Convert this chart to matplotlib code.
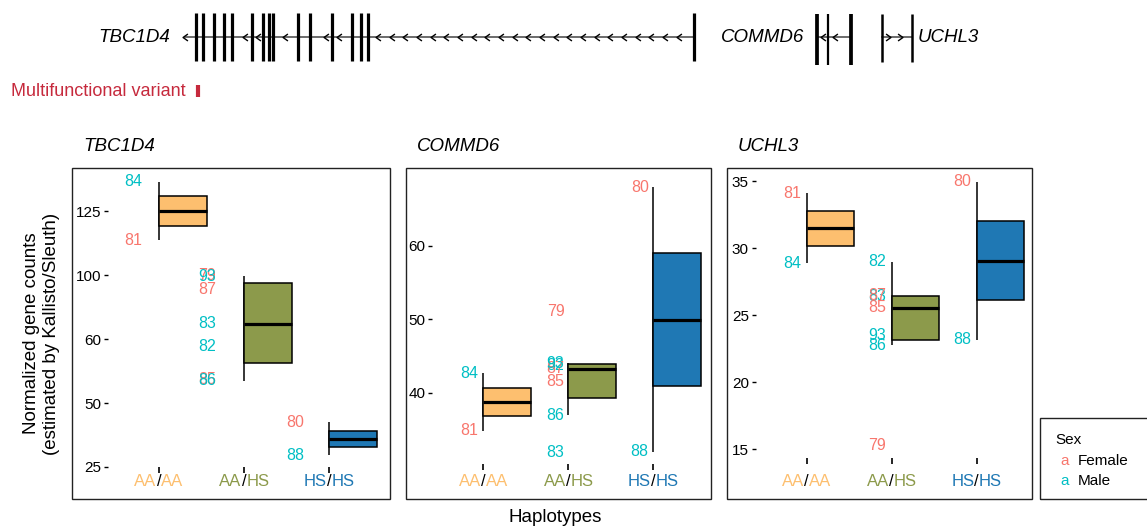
import numpy as np
import matplotlib
matplotlib.use("Agg")
from matplotlib import pyplot as plt
import matplotlib.patches as mpatches
import matplotlib.transforms as mtrans
from matplotlib import cbook
from matplotlib.path import Path

plt.rcParams['font.family'] = ['Liberation Sans', 'DejaVu Sans']

# samples, their sex and haplotype
samples = [81, 84, 79, 82, 83, 85, 86, 87, 93, 80, 88]
sex = ['Female', 'Male', 'Female', 'Male', 'Male', 'Female', 'Male', 'Female', 'Male', 'Female', 'Male']
haplo = ['AA/AA', 'AA/AA', 'AA/HS', 'AA/HS', 'AA/HS', 'AA/HS', 'AA/HS', 'AA/HS', 'AA/HS', 'HS/HS', 'HS/HS']
haplo_order = ['AA/AA', 'AA/HS', 'HS/HS']

# normalized gene counts per gene (same sample order)
tbc1d4 = [113.7, 136.5, 99.6, 58.8, 69.5, 53.65, 53.46, 91.2, 99.0, 42.4, 29.6]
commd6 = [34.83, 42.64, 51.0, 43.73, 31.93, 41.5, 36.93, 43.27, 44.0, 67.94, 31.97]
uchl3 = [34.1, 28.88, 15.25, 29.0, 26.37, 25.58, 22.78, 26.48, 23.48, 34.97, 23.16]

genes = ['TBC1D4', 'COMMD6', 'UCHL3']
gene_vals = [tbc1d4, commd6, uchl3]
yticks = [[25, 50, 60, 100, 125], [40, 50, 60], [15, 20, 25, 30, 35]]
ylims = [(25, 141.9), (30.3, 70.57), (14.35, 35.99)]

# gene track (x positions along the track)
tbc1d4_exons = [195.7, 203.3, 214.3, 224, 232, 251.7, 263.3, 269.3, 273.3, 298.3, 310, 332.3, 351.7, 361, 367.7, 694.3]
tbc1d4_arrows = [245, 258.3, 285, 325.7, 339.3]
commd6_exons = [816.7, 827.7, 850.7]
commd6_arrows = [823.3, 835]
uchl3_exons = [881.7, 912.3]
uchl3_arrows = [888.3, 900]

box_colors = {'AA/AA': '#FDBF6F', 'AA/HS': '#8C9A4B', 'HS/HS': '#1F78B4'}
sex_colors = {'Female': '#F8766D', 'Male': '#00BFC4'}
red = '#C62A3D'

W, H = 1147, 527
fig = plt.figure(figsize=(W / 100, H / 100), dpi=100)


def fx(px):
    return px / W


def fy(py):
    return 1 - py / H


# piecewise scale used on the TBC1D4 panel
kv = np.array([25, 50, 60, 100, 125], float)
kt = np.array([0, 1, 2, 3, 4], float)


def fwd(v):
    v = np.asarray(v, float)
    t = np.interp(v, kv, kt)
    t = np.where(v > kv[-1], kt[-1] + (v - kv[-1]) / 25, t)
    t = np.where(v < kv[0], kt[0] + (v - kv[0]) / 25, t)
    return t


def inv(t):
    t = np.asarray(t, float)
    v = np.interp(t, kt, kv)
    v = np.where(t > kt[-1], kv[-1] + (t - kt[-1]) * 25, v)
    v = np.where(t < kt[0], kv[0] + (t - kt[0]) * 25, v)
    return v


def ident(v):
    return np.asarray(v, float)


# ---- gene track ----
tr = fig.add_axes([0, fy(110), 1, 110 / H])
tr.set_xlim(0, W)
tr.set_ylim(110, 0)
tr.axis('off')
chev_l = Path([(0.7, 1), (-0.7, 0), (0.7, -1)], [Path.MOVETO, Path.LINETO, Path.LINETO])
chev_r = Path([(-0.7, 1), (0.7, 0), (-0.7, -1)], [Path.MOVETO, Path.LINETO, Path.LINETO])

tr.plot([185, tbc1d4_exons[-1]], [37, 37], color='#444444', lw=1.1)
tr.plot([185], [37], marker=chev_l, ms=5, mfc='none', mec='black', mew=1)
tr.vlines(tbc1d4_exons, 13, 61, color='black', lw=2.3)
arr = list(tbc1d4_arrows) + list(np.arange(378, 685, 13.67))
tr.plot(arr, [37] * len(arr), ls='none', marker=chev_l, ms=5, mfc='none', mec='black', mew=1)
tr.text(170, 37, 'TBC1D4', style='italic', fontsize=13.5, ha='right', va='center')

tr.plot([commd6_exons[0], commd6_exons[-1]], [37, 37], color='#444444', lw=1.1)
tr.vlines(commd6_exons, 14, 65, color='black', lw=[2.7, 1.6, 2.7])
tr.plot(commd6_arrows, [37] * len(commd6_arrows), ls='none', marker=chev_l, ms=5, mfc='none', mec='black', mew=1)
tr.text(804, 37, 'COMMD6', style='italic', fontsize=13.5, ha='right', va='center')

tr.plot([uchl3_exons[0], uchl3_exons[-1]], [37, 37], color='#444444', lw=1.1)
tr.vlines(uchl3_exons, 14, 62, color='black', lw=1.8)
tr.plot(uchl3_arrows, [37] * len(uchl3_arrows), ls='none', marker=chev_r, ms=5, mfc='none', mec='black', mew=1)
tr.text(918, 37, 'UCHL3', style='italic', fontsize=13.5, ha='left', va='center')

tr.text(10.7, 92, 'Multifunctional variant', color=red, fontsize=13, ha='left', va='center')
tr.vlines([198], 85, 97, color=red, lw=3)

# ---- panels ----
frames = [(72, 390), (406, 711), (727, 1032)]
ax_left = [108, 432.3, 755.7]
ax_bottom = [467, 464, 458]
label_off = [[-0.30, -0.43, -0.40], [-0.165, -0.15, -0.16], [-0.175, -0.17, -0.175]]

for p, gene in enumerate(genes):
    x0, x1 = frames[p]
    fig.add_artist(mpatches.Rectangle((fx(x0), fy(499)), fx(x1) - fx(x0), fy(168) - fy(499),
                                      transform=fig.transFigure, fill=False,
                                      edgecolor='#222222', lw=1.0))
    fig.text(fx(x0 + 11), fy(146.5), gene, style='italic', fontsize=13.5, ha='left', va='center')

    ax = fig.add_axes([fx(ax_left[p]), fy(ax_bottom[p]), 272 / W, (ax_bottom[p] - 168) / H])
    if p == 0:
        ax.set_yscale('function', functions=(fwd, inv))
        f, finv = fwd, inv
    else:
        f, finv = ident, ident
    vals_all = gene_vals[p]
    for i, h in enumerate(haplo_order):
        idx = [k for k in range(len(samples)) if haplo[k] == h]
        vals = np.array([vals_all[k] for k in idx])
        st = cbook.boxplot_stats(f(vals))[0]
        for key in ('med', 'q1', 'q3', 'whislo', 'whishi'):
            st[key] = float(finv(st[key]))
        st['fliers'] = []
        ax.vlines(i + 1, st['whislo'], st['whishi'], color='black', lw=1.1, zorder=1)
        ax.bxp([st], positions=[i + 1 + 0.28], widths=0.56, showfliers=False, showcaps=False,
               patch_artist=True, manage_ticks=False,
               boxprops=dict(facecolor=box_colors[h], edgecolor='black', linewidth=1.1),
               medianprops=dict(color='black', linewidth=2.3),
               whiskerprops=dict(linewidth=0))
        for k in idx:
            ax.text(i + 1 + label_off[p][i], vals_all[k], str(samples[k]),
                    color=sex_colors[sex[k]], fontsize=11.5, ha='center', va='center', zorder=3)

    ax.set_xlim(0.4, 3.6)
    ax.set_ylim(*ylims[p])
    ax.set_yticks(yticks[p])
    ax.set_yticklabels([str(t) for t in yticks[p]])
    ax.set_xticks([1, 2, 3])
    ax.set_xticklabels([])
    ax.tick_params(axis='y', length=3, width=1.0, pad=2, labelsize=11)
    ax.tick_params(axis='x', length=4, width=1.2)
    ax.minorticks_off()
    for s in ax.spines.values():
        s.set_visible(False)
    ax.patch.set_alpha(0)

    # coloured haplotype tick labels
    base = mtrans.blended_transform_factory(ax.transData, fig.transFigure)
    for i, h in enumerate(haplo_order):
        a, b = h.split('/')
        col = box_colors[h]
        ax.text(i + 1, fy(486.5), '/', transform=base, fontsize=12, ha='center', va='baseline')
        ax.text(i + 1, fy(486.5), a, fontsize=12, ha='right', va='baseline', color=col,
                transform=mtrans.offset_copy(base, fig=fig, x=-1.7, units='points'))
        ax.text(i + 1, fy(486.5), b, fontsize=12, ha='left', va='baseline', color=col,
                transform=mtrans.offset_copy(base, fig=fig, x=1.7, units='points'))

fig.text(fx(41.5), fy(333.5), 'Normalized gene counts\n(estimated by Kallisto/Sleuth)',
         rotation=90, ha='center', va='center', fontsize=13.5, linespacing=1.2)
fig.text(fx(555), fy(518), 'Haplotypes', ha='center', va='center', fontsize=13.5)

# legend
fig.add_artist(mpatches.Rectangle((fx(1040), fy(499)), fx(1152) - fx(1040), fy(418) - fy(499),
                                  transform=fig.transFigure, fill=False, edgecolor='#222222', lw=1.0))
fig.text(fx(1055), fy(440.5), 'Sex', fontsize=11, ha='left', va='center')
for j, s in enumerate(['Female', 'Male']):
    yy = fy(461 + 20 * j)
    fig.text(fx(1065), yy, 'a', color=sex_colors[s], fontsize=11, ha='center', va='center')
    fig.text(fx(1078), yy, s, fontsize=11, ha='left', va='center')

fig.savefig('out.png', dpi=100)
